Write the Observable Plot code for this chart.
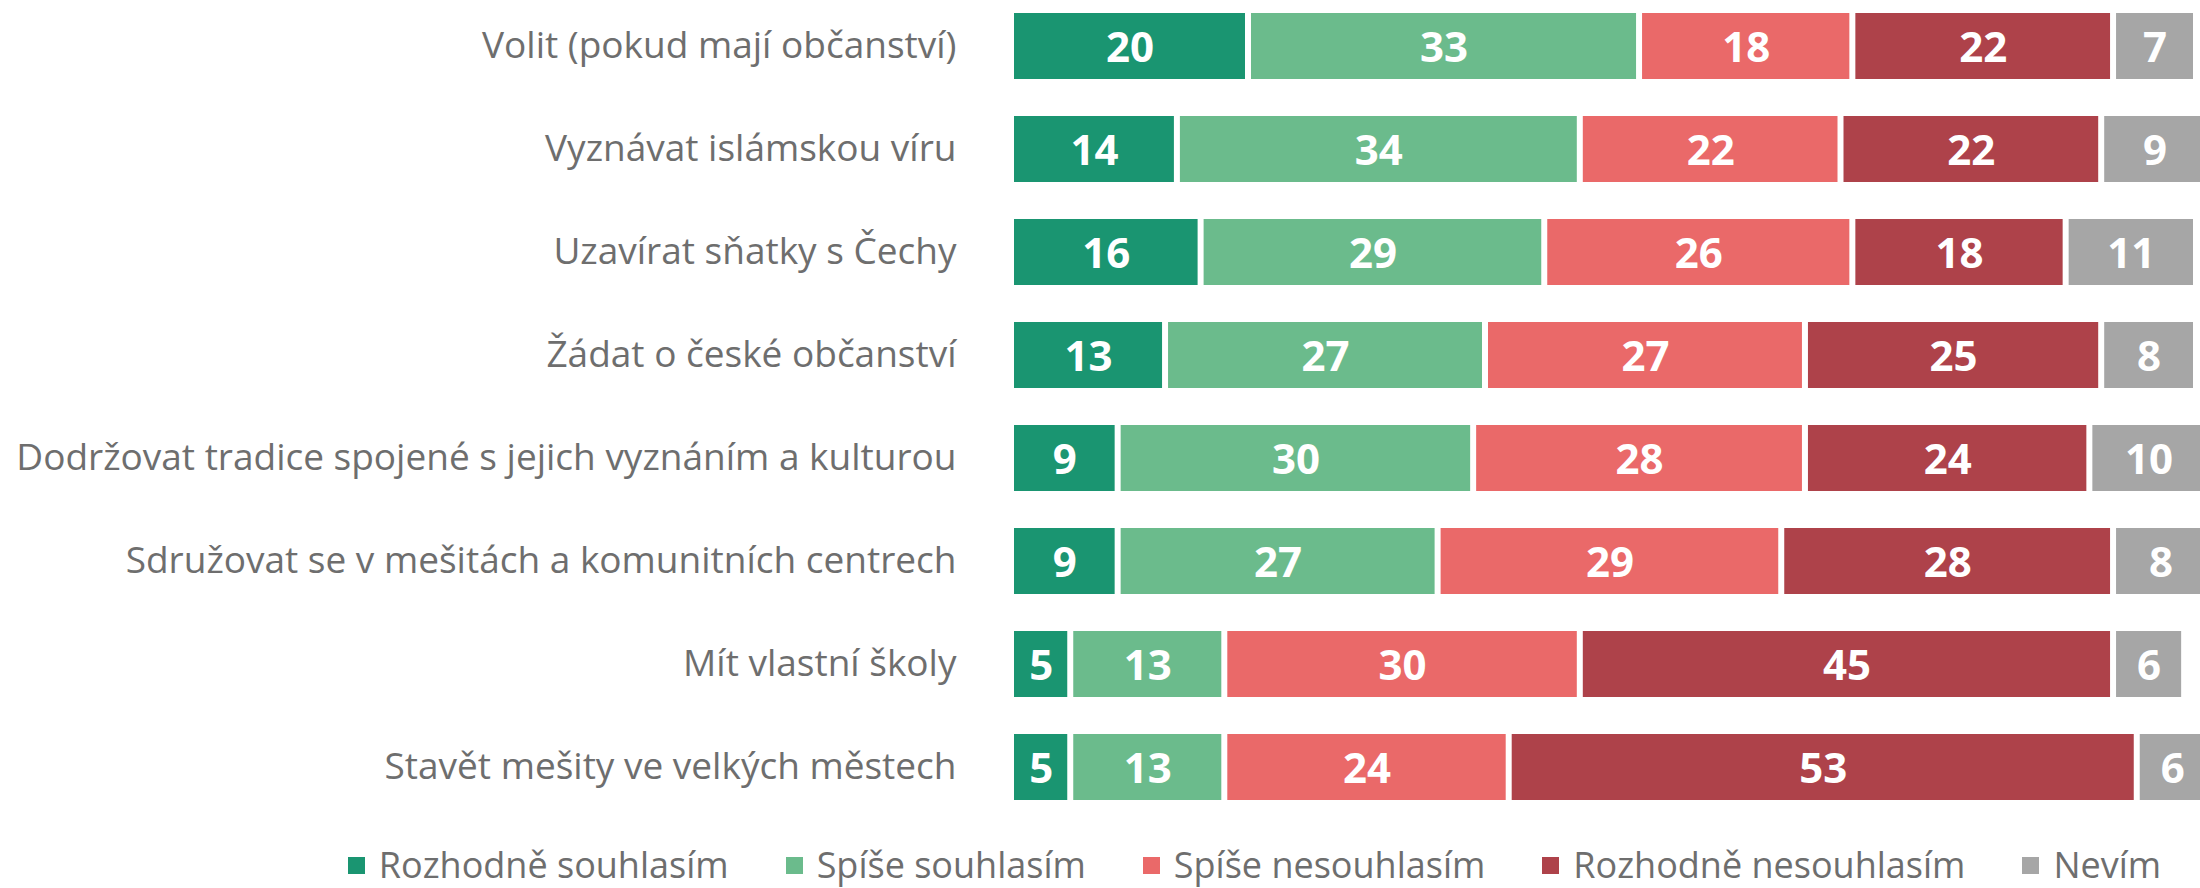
<!DOCTYPE html>
<html>
<head>
<meta charset="utf-8">
<script src="https://cdn.jsdelivr.net/npm/d3@7"></script>
<script src="https://cdn.jsdelivr.net/npm/@observablehq/plot@0.6"></script>
<style>
  html, body { margin: 0; padding: 0; background: #fff; overflow: hidden; }
  #chart svg { display: block; }
  #legend {
    box-sizing: border-box;
    width: 2200px; height: 53px;
    padding-top: 7px; padding-left: 309px;
    display: flex; justify-content: center; align-items: center;
    gap: 57px; line-height: 1;
    font-family: "Open Sans", sans-serif; font-size: 36px; color: #6e6e6e;
  }
  .item { display: flex; align-items: center; white-space: nowrap; }
  .sw { width: 17px; height: 17px; margin-right: 14px; flex: none; }
</style>
</head>
<body>
<div id="chart"></div>
<div id="legend"></div>
<script>
const questions = [
  "Volit (pokud mají občanství)",
  "Vyznávat islámskou víru",
  "Uzavírat sňatky s Čechy",
  "Žádat o české občanství",
  "Dodržovat tradice spojené s jejich vyznáním a kulturou",
  "Sdružovat se v mešitách a komunitních centrech",
  "Mít vlastní školy",
  "Stavět mešity ve velkých městech"
];
const categories = ["Rozhodně souhlasím", "Spíše souhlasím", "Spíše nesouhlasím", "Rozhodně nesouhlasím", "Nevím"];
const colors = ["#1a9571", "#6bbb8c", "#ea6969", "#ae424a", "#a6a6a6"];

const rozhodneSouhlasim   = [20, 14, 16, 13, 9, 9, 5, 5];
const spiseSouhlasim      = [33, 34, 29, 27, 30, 27, 13, 13];
const spiseNesouhlasim    = [18, 22, 26, 27, 28, 29, 30, 24];
const rozhodneNesouhlasim = [22, 22, 18, 25, 24, 28, 45, 53];
const nevim               = [7, 9, 11, 8, 10, 8, 6, 6];

const series = [rozhodneSouhlasim, spiseSouhlasim, spiseNesouhlasim, rozhodneNesouhlasim, nevim];
const data = [];
questions.forEach((q, i) => {
  categories.forEach((c, j) => {
    data.push({question: q, category: c, value: series[j][i]});
  });
});

const chart = Plot.plot({
  width: 2200,
  height: 835,
  marginLeft: 1014,
  marginRight: 1,
  marginTop: 12,
  marginBottom: 34,
  style: {fontFamily: "'Open Sans', sans-serif", background: "#fff"},
  x: {domain: [0, 100], axis: null},
  y: {domain: questions, paddingInner: 0.36, paddingOuter: 0, label: null},
  color: {domain: categories, range: colors},
  marks: [
    Plot.barX(data, Plot.stackX({
      x: "value", y: "question", z: "category", fill: "category",
      insetRight: 6
    })),
    Plot.text(data, Plot.stackX({
      x: "value", y: "question", z: "category", text: d => String(d.value),
      fill: "#fff", fontWeight: "bold", fontSize: 42, dx: -3, dy: 2
    })),
    Plot.axisY({
      tickSize: 0, tickPadding: 58, fontSize: 37, fill: "#6e6e6e", label: null
    })
  ]
});
document.getElementById("chart").appendChild(chart);

const legend = document.getElementById("legend");
categories.forEach((c, j) => {
  const item = document.createElement("div");
  item.className = "item";
  const sw = document.createElement("span");
  sw.className = "sw";
  sw.style.background = colors[j];
  const t = document.createElement("span");
  t.textContent = c;
  item.appendChild(sw);
  item.appendChild(t);
  legend.appendChild(item);
});
</script>
</body>
</html>
